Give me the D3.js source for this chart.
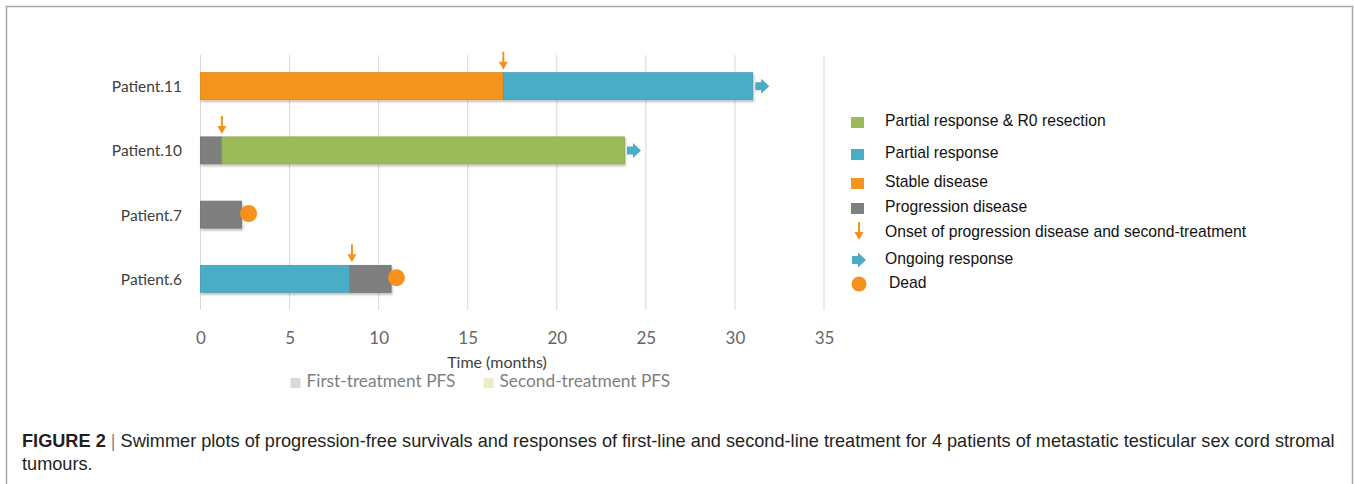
<!DOCTYPE html>
<html>
<head>
<meta charset="utf-8">
<script src="https://cdn.jsdelivr.net/npm/d3@7"></script>
<style>
body { margin: 0; background: #fff; }
svg { display: block; }
</style>
</head>
<body>
<script>
var width = 1354;
var height = 484;

// data
var patients = ["Patient.11", "Patient.10", "Patient.7", "Patient.6"];
var segments = [
    { patient: "Patient.11", start: 0, end: 17.0, status: "SD" },
    { patient: "Patient.11", start: 17.0, end: 31.0, status: "PR" },
    { patient: "Patient.10", start: 0, end: 1.2, status: "PD" },
    { patient: "Patient.10", start: 1.2, end: 23.8, status: "PRR0" },
    { patient: "Patient.7", start: 0, end: 2.3, status: "PD" },
    { patient: "Patient.6", start: 0, end: 8.4, status: "PR" },
    { patient: "Patient.6", start: 8.4, end: 10.7, status: "PD" }
];
var progression = [
    { patient: "Patient.11", time: 17.0 },
    { patient: "Patient.10", time: 1.2 },
    { patient: "Patient.6", time: 8.5 }
];
var ongoing = [
    { patient: "Patient.11", time: 31.0 },
    { patient: "Patient.10", time: 23.8 }
];
var dead = [
    { patient: "Patient.7", time: 2.7 },
    { patient: "Patient.6", time: 11.0 }
];
var xTicks = [0, 5, 10, 15, 20, 25, 30, 35];
var legendItems = [
    { label: "Partial response & R0 resection", type: "rect", status: "PRR0" },
    { label: "Partial response", type: "rect", status: "PR" },
    { label: "Stable disease", type: "rect", status: "SD" },
    { label: "Progression disease", type: "rect", status: "PD" },
    { label: "Onset of progression disease and second-treatment", type: "down" },
    { label: "Ongoing response", type: "right" },
    { label: "Dead", type: "circle" }
];
var pfsLegend = ["First-treatment PFS", "Second-treatment PFS"];

var colors = { PRR0: "#9bbb59", PR: "#4bacc6", SD: "#f5941f", PD: "#7f7f7f" };
var orange = "#f5921e";

var svg = d3.select("body").append("svg")
    .attr("width", width)
    .attr("height", height);

var defs = svg.append("defs");
var shadow = defs.append("filter").attr("id", "shadow")
    .attr("x", "-5%").attr("y", "-20%").attr("width", "110%").attr("height", "150%");
shadow.append("feDropShadow")
    .attr("dx", 1).attr("dy", 2).attr("stdDeviation", 1.2)
    .attr("flood-color", "#000").attr("flood-opacity", 0.25);

// outer frame
svg.append("rect")
    .attr("x", 6.5).attr("y", 6.5)
    .attr("width", 1346).attr("height", 500)
    .attr("fill", "none")
    .attr("stroke", "#a6a6a6")
    .attr("stroke-width", 1.5);

var xScale = d3.scaleLinear().domain([0, 35]).range([200.5, 824]);
var yScale = d3.scaleBand().domain(patients).range([55, 310])
    .paddingInner(0.58).paddingOuter(0.275);

// grid
svg.append("g")
    .selectAll("line")
    .data(xTicks)
    .enter().append("line")
    .attr("x1", d => xScale(d)).attr("x2", d => xScale(d))
    .attr("y1", 55).attr("y2", 310)
    .attr("stroke", "#d9d9d9")
    .attr("stroke-width", 1);

var xAxis = d3.axisBottom(xScale).tickValues(xTicks).tickSize(0).tickPadding(22);
var gx = svg.append("g")
    .attr("transform", "translate(0,310)")
    .call(xAxis);
gx.select(".domain").remove();
gx.selectAll("text")
    .attr("font-family", "Lato, 'Open Sans', sans-serif")
    .attr("font-size", 17)
    .attr("fill", "#666");

// patient labels
svg.append("g")
    .selectAll("text")
    .data(patients)
    .enter().append("text")
    .attr("x", 182)
    .attr("y", d => yScale(d) + yScale.bandwidth() / 2 + 2)
    .attr("dominant-baseline", "middle")
    .attr("text-anchor", "end")
    .attr("font-family", "Lato, sans-serif")
    .attr("font-size", 15.5)
    .attr("fill", "#404040")
    .text(d => d);

// bars
svg.append("g")
    .attr("filter", "url(#shadow)")
    .selectAll("rect")
    .data(segments)
    .enter().append("rect")
    .attr("x", d => xScale(d.start))
    .attr("y", d => yScale(d.patient))
    .attr("width", d => xScale(d.end) - xScale(d.start))
    .attr("height", yScale.bandwidth())
    .attr("fill", d => colors[d.status])
    .attr("stroke", d => d3.color(colors[d.status]).darker(0.3))
    .attr("stroke-width", 0.8);

function downArrow(g, x, yTip) {
    g.append("line")
        .attr("x1", x).attr("x2", x)
        .attr("y1", yTip - 18).attr("y2", yTip - 6)
        .attr("stroke", orange).attr("stroke-width", 2);
    g.append("path")
        .attr("d", "M" + (x - 4.5) + "," + (yTip - 8) + "L" + (x + 4.5) + "," + (yTip - 8) + "L" + x + "," + yTip + "Z")
        .attr("fill", orange);
}

function rightArrow(g, x, y) {
    // block arrow, x = left edge, y = middle
    g.append("path")
        .attr("d", "M" + x + "," + (y - 4) + "L" + (x + 6) + "," + (y - 4) + "L" + (x + 6) + "," + (y - 7.5) +
            "L" + (x + 14) + "," + y + "L" + (x + 6) + "," + (y + 7.5) + "L" + (x + 6) + "," + (y + 4) +
            "L" + x + "," + (y + 4) + "Z")
        .attr("fill", "#4bacc6");
}

var marks = svg.append("g");
progression.forEach(function (d) {
    downArrow(marks, xScale(d.time), yScale(d.patient) - 3);
});
ongoing.forEach(function (d) {
    rightArrow(marks, xScale(d.time) + 2.5, yScale(d.patient) + yScale.bandwidth() / 2);
});
marks.selectAll("circle")
    .data(dead)
    .enter().append("circle")
    .attr("cx", d => xScale(d.time))
    .attr("cy", d => yScale(d.patient) + yScale.bandwidth() / 2 - 1)
    .attr("r", 8.5)
    .attr("fill", orange);

// axis title
svg.append("text")
    .attr("x", 497).attr("y", 368)
    .attr("text-anchor", "middle")
    .attr("font-family", "Lato, sans-serif")
    .attr("font-size", 16)
    .attr("fill", "#404040")
    .text("Time  (months)");

// PFS legend under axis
var pfsColors = ["#d9d9d9", "#efebc4"];
var pfsX = [290.5, 483.5];
var pfs = svg.append("g");
pfsLegend.forEach(function (t, i) {
    pfs.append("rect")
        .attr("x", pfsX[i]).attr("y", 378)
        .attr("width", 10).attr("height", 10)
        .attr("fill", pfsColors[i]);
    pfs.append("text")
        .attr("x", pfsX[i] + 16).attr("y", 383)
        .attr("dominant-baseline", "middle")
        .attr("font-family", "Lato, sans-serif")
        .attr("font-size", 17.3)
        .attr("fill", "#7f7f7f")
        .text(t);
});

// right legend
var legendY = [122, 154, 183, 208, 233, 260, 284];
var legend = svg.append("g");
legendItems.forEach(function (d, i) {
    var y = legendY[i];
    if (d.type === "rect") {
        legend.append("rect")
            .attr("x", 851).attr("y", y - 5)
            .attr("width", 13).attr("height", 11)
            .attr("fill", colors[d.status]);
    } else if (d.type === "down") {
        downArrow(legend, 859, y + 7);
    } else if (d.type === "right") {
        rightArrow(legend, 852, y);
    } else {
        legend.append("circle")
            .attr("cx", 859).attr("cy", y)
            .attr("r", 7.5)
            .attr("fill", orange);
    }
    legend.append("text")
        .attr("x", d.type === "circle" ? 889 : 885)
        .attr("y", y)
        .attr("dominant-baseline", "middle")
        .attr("font-family", "'Liberation Sans', Arial, sans-serif")
        .attr("font-size", 15.7)
        .attr("fill", "#111")
        .text(d.label);
});

// caption
var caption = svg.append("text")
    .attr("x", 22).attr("y", 447)
    .attr("font-family", "'Liberation Sans', Arial, sans-serif")
    .attr("font-size", 18)
    .attr("fill", "#231f20");
caption.append("tspan").attr("font-weight", "bold").text("FIGURE 2");
caption.append("tspan").attr("fill", "#888").text(" | ");
caption.append("tspan").text("Swimmer plots of progression-free survivals and responses of first-line and second-line treatment for 4 patients of metastatic testicular sex cord stromal");
var w = caption.node().getComputedTextLength();
var fs = 18 * 1314 / w;
caption.attr("font-size", fs);

svg.append("text")
    .attr("x", 22).attr("y", 470)
    .attr("font-family", "'Liberation Sans', Arial, sans-serif")
    .attr("font-size", fs)
    .attr("fill", "#231f20")
    .text("tumours.");
</script>
</body>
</html>
